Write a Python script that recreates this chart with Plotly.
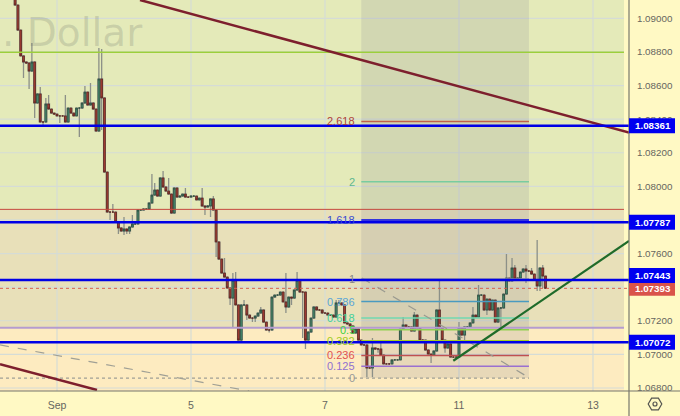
import math
import plotly.graph_objects as go

FIRST_BAR = 5
FIRST_OPEN = 109300
# closing prices of hourly bars, in points (1e-5)
closes = [
 109079,108930,108776,108740,108734,108686,108740,108496,108550,108383,108383,108490,108460,108436,108430,108419,108419,108419,108383,108466,
 108436,108419,108466,108466,108496,108561,108484,108496,108460,108329,108639,108526,108085,107847,107847,107847,107788,107752,107734,107746,
 107734,107758,107776,107776,107859,107859,107865,107865,107901,107948,107978,107942,108050,107996,107972,107954,107841,107990,107936,107942,
 107954,107936,107936,107942,107942,107919,107930,107883,107877,107883,107925,107859,107669,107567,107484,107460,107395,107335,107442,107294,
 107085,107294,107294,107234,107216,107216,107228,107246,107264,107192,107145,107145,107341,107353,107353,107371,107312,107282,107341,107335,
 107383,107442,107371,107371,107085,107133,107216,107282,107264,107264,107246,107246,107234,107234,107222,107306,107306,107294,107187,107181,
 107169,107127,107151,107085,107056,107056,106919,106919,107038,107032,107032,106996,106943,106943,106943,106967,106967,106967,107151,107175,
 107163,107163,107139,107234,107157,107085,107085,107026,107002,106996,107020,107264,107157,107085,107038,107062,106984,106984,106984,107157,
 107115,107163,107163,107187,107234,107222,107353,107353,107264,107329,107264,107323,107192,107276,107276,107359,107454,107437,107514,107448,
 107454,107490,107508,107496,107496,107478,107442,107407,107514,107466,107393]
# wick extremes, by bar number
high_marks = {11:108853,14:108591,16:108526,17:108544,23:108544,30:108597,32:108615,35:108823,36:108817,40:107895,44:107817,47:107830,
 54:108073,55:108020,58:108091,60:108050,66:107990,72:107990,76:107942,80:107573,83:107484,84:107490,87:107323,93:107282,102:107484,106:107490,
 120:107323,121:107323,133:107097,136:107085,144:107222,148:107252,157:107442,164:107192,169:107282,171:107413,181:107597,183:107573,184:107532,
 188:107532,190:107514,192:107681,194:107532}
low_marks = {8:108645,10:108579,12:108407,15:108353,21:108377,28:108294,36:108335,39:107800,42:107716,44:107710,45:107716,46:107716,61:107835,
 73:107829,75:107817,77:107580,82:107294,83:107163,86:107067,88:107204,90:107192,91:107192,96:107130,102:107246,104:107294,108:107098,109:107032,
 131:106865,133:106865,135:107010,150:107070,154:106948,159:107010,166:107085,174:107234,179:107163,188:107425,192:107377,193:107377,194:107395}

tick_bars = [20, 68, 116, 164, 212]
tick_text = ["Sep", "5", "7", "11", "13"]
grid_prices = [1.068, 1.070, 1.072, 1.074, 1.076, 1.078, 1.080, 1.082, 1.084, 1.086, 1.088, 1.090]
price_ticks = [1.068, 1.070, 1.072, 1.076, 1.080, 1.082, 1.084, 1.086, 1.088, 1.090]
x_range = [-0.42, 224.9]
y_range = [1.06782, 1.09109]
zone_end = 223.1

level_prices = [1.08361, 1.07787, 1.07443, 1.07072]
level_badge_shift = [0, 0, 4.5, 0]
last_price = 1.07393

fib_text = ["2.618", "2", "1.618", "1", "0.786", "0.618", "0.5", "0.382", "0.236", "0.125", "0"]
fib_prices = [1.08386, 1.08028, 1.07800, 1.07448, 1.07314, 1.07216, 1.07147, 1.07081, 1.06994, 1.06930, 1.06859]
fib_label_colors = ["#b0433a", "#5db88f", "#3a4cd0", "#888888", "#58a5d8", "#3fd09a", "#3ed03e", "#a0cc20", "#e05050", "#9070d0", "#999999"]
fib_line_colors = ["#c0604a", "#78cca0", "#0000e6", "#9a9a9a", "#4a9ac0", "#70d8b0", "#8fd050", "#a8d020", "#c05050", "#9a70d0", None]
fib_x = [129.0, 189.07]

trend_lines = [  # (x0, y0, x1, y1, colour, width, dash)
 (49.73, 1.09109, 224.9, 1.08320, "#7d1f2d", 2.5, "solid"),
 (-0.42, 1.06941, 34.33, 1.06788, "#7d1f2d", 2.5, "solid"),
 (-0.42, 1.07056, 88.8, 1.06782, "#a0a095", 1.2, "dash"),
 (129.25, 1.07454, 188.7, 1.06865, "#9a9a90", 1.2, "dash"),
 (161.96, 1.06962, 224.9, 1.07675, "#1f6b2a", 2.2, "solid"),
]

opens_ = [FIRST_OPEN] + closes[:-1]
bars = list(range(FIRST_BAR, FIRST_BAR + len(closes)))
op = [v / 1e5 for v in opens_]
cl = [v / 1e5 for v in closes]
hi = [max(o, c, high_marks.get(b, 0)) / 1e5 for b, o, c in zip(bars, opens_, closes)]
lo = [min(o, c, low_marks.get(b, 10**9)) / 1e5 for b, o, c in zip(bars, opens_, closes)]
top = [max(a, b) for a, b in zip(op, cl)]
bot = [min(a, b) for a, b in zip(op, cl)]

fig = go.Figure()
fig.add_trace(go.Candlestick(x=bars, open=op, high=hi, low=lo, close=cl, whiskerwidth=0,
    increasing=dict(line=dict(color="#8c9088", width=1.3), fillcolor="rgba(0,0,0,0)"),
    decreasing=dict(line=dict(color="#8c9088", width=1.3), fillcolor="rgba(0,0,0,0)"),
    showlegend=False, hoverinfo="skip"))
fig.add_trace(go.Candlestick(x=bars, open=op, high=top, low=bot, close=cl, whiskerwidth=0,
    increasing=dict(line=dict(color="#2c4a3c", width=0.8), fillcolor="#4c9676"),
    decreasing=dict(line=dict(color="#5a2620", width=0.8), fillcolor="#ad4036"),
    showlegend=False, hoverinfo="skip"))

shapes = []
def rect(x0, x1, y0, y1, color):
    shapes.append(dict(type="rect", xref="x", yref="y", x0=x0, x1=x1, y0=y0, y1=y1,
                       fillcolor=color, line=dict(width=0), layer="below"))
def hline(y, x0, x1, color, width, dash="solid", layer="above"):
    shapes.append(dict(type="line", xref="x", yref="y", x0=x0, x1=x1, y0=y, y1=y,
                       line=dict(color=color, width=width, dash=dash), layer=layer))

GREEN_TOP = 1.07863
PURPLE = 1.07159
rect(x_range[0], zone_end, GREEN_TOP, y_range[1], "#e4eab9")
rect(x_range[0], zone_end, PURPLE, GREEN_TOP, "#e8e0b9")
rect(x_range[0], zone_end, y_range[0], PURPLE, "#fdebc0")
for p in grid_prices:
    hline(p, x_range[0], zone_end, "#d5dcd6", 1.2, layer="below")
for b in tick_bars:
    shapes.append(dict(type="line", xref="x", yref="y", x0=b, x1=b, y0=y_range[0], y1=y_range[1],
                       line=dict(color="#d5dcd6", width=1.2), layer="below"))
rect(fib_x[0], fib_x[1], fib_prices[-1], y_range[1], "rgba(125,125,150,0.17)")

hline(1.08798, x_range[0], zone_end, "#9ccf3a", 1.3)
hline(GREEN_TOP, x_range[0], zone_end, "#c4483e", 1)
hline(PURPLE, x_range[0], zone_end, "#b49ccf", 2)
hline(fib_prices[-1], x_range[0], fib_x[1], "#a0a095", 1.2, "dot")
hline(last_price, x_range[0], x_range[1], "#d9604f", 1, "dot")
for p, c in zip(fib_prices, fib_line_colors):
    if c:
        hline(p, fib_x[0], fib_x[1], c, 1.5)
for x0, y0, x1, y1, c, w, d in trend_lines:
    shapes.append(dict(type="line", xref="x", yref="y", x0=x0, y0=y0, x1=x1, y1=y1,
                       line=dict(color=c, width=w, dash=d), layer="above"))
for p in level_prices:
    hline(p, x_range[0], x_range[1], "#0000e6", 2.5)

PW, PH = 629.0, 391.0
def px(v): return v / PW
def py(v): return (PH - v) / PH
# frame lines of the price and time scales
shapes.append(dict(type="line", xref="paper", yref="paper", x0=1, x1=1, y0=py(416), y1=1, line=dict(color="#77776d", width=1.2)))
shapes.append(dict(type="line", xref="paper", yref="paper", x0=0, x1=px(680), y0=0, y1=0, line=dict(color="#77776d", width=1.2)))
# settings icon
hexpts = [(655 + 6.8 * math.cos(math.radians(a)), 404 + 6.8 * math.sin(math.radians(a))) for a in range(0, 360, 60)]
path = "M " + " L ".join(f"{px(x):.5f},{py(y):.5f}" for x, y in hexpts) + " Z"
shapes.append(dict(type="path", xref="paper", yref="paper", path=path, line=dict(color="#555550", width=1.2)))
shapes.append(dict(type="circle", xref="paper", yref="paper", x0=px(653), x1=px(657), y0=py(406), y1=py(402), line=dict(color="#555550", width=1.2)))

annotations = []
def badge(price, shift, color):
    shapes.append(dict(type="rect", xref="paper", yref="y", x0=1, x1=1 + 46 / PW, ysizemode="pixel", yanchor=price,
                       y0=shift - 7.5, y1=shift + 7.5, fillcolor=color, line=dict(width=0), layer="above"))
    annotations.append(dict(xref="paper", yref="y", x=1 + 24 / PW, y=price, yshift=shift, text=f"<b>{price:.5f}</b>", showarrow=False,
                            font=dict(color="white", size=9.8, family="Liberation Sans"), xanchor="center", yanchor="middle"))
badge(last_price, 0, "#d9534a")
for p, s in zip(level_prices, level_badge_shift):
    badge(p, s, "#0000f0")
for t, p, c in zip(fib_text, fib_prices, fib_label_colors):
    annotations.append(dict(xref="x", yref="y", x=127.4, y=p, text=t, showarrow=False, xanchor="right", yanchor="middle",
                            font=dict(color=c, size=11, family="Liberation Sans")))
annotations.append(dict(xref="paper", yref="y", x=0, y=1.08915, text=". Dollar", showarrow=False, xanchor="left", yanchor="middle",
                        font=dict(color="rgba(105,115,105,0.22)", size=39, family="DejaVu Sans")))

fig.update_layout(
    width=680, height=416, margin=dict(l=0, r=51, t=0, b=25), autosize=False,
    paper_bgcolor="#fff9c4", plot_bgcolor="#fff9c4", boxmode="overlay", boxgap=0.1,
    shapes=shapes, annotations=annotations, showlegend=False,
    xaxis=dict(range=x_range, tickmode="array", tickvals=tick_bars, ticktext=tick_text, showgrid=False, zeroline=False,
               rangeslider=dict(visible=False), ticks="outside", ticklen=4, tickcolor="rgba(0,0,0,0)",
               tickfont=dict(size=10.5, color="#666660", family="Liberation Sans")),
    yaxis=dict(range=y_range, side="right", tickmode="array", tickvals=price_ticks, ticktext=[f"{p:.5f}" for p in price_ticks],
               showgrid=False, zeroline=False, ticks="outside", ticklen=5, tickcolor="rgba(0,0,0,0)",
               tickfont=dict(size=9.8, color="#666660", family="Liberation Sans")),
)
fig.write_html("out.html", config=dict(displayModeBar=False),
               post_script="document.documentElement.style.overflow='hidden';document.body.style.margin='0';document.body.style.overflow='hidden';")
